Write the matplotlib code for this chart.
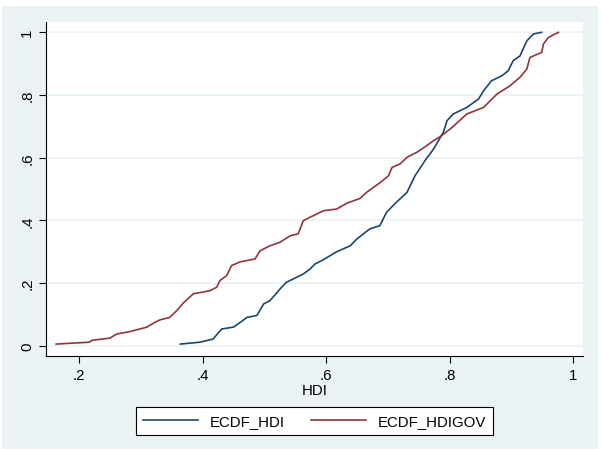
import numpy as np
import matplotlib.pyplot as plt
from matplotlib.patches import Rectangle

plt.rcParams['font.family'] = ['Liberation Sans', 'DejaVu Sans']

# ECDF of HDI
hdi_x = [0.364, 0.396, 0.417, 0.431, 0.450, 0.461, 0.472, 0.488, 0.499, 0.509,
         0.528, 0.536, 0.563, 0.574, 0.582, 0.596, 0.617, 0.639, 0.650, 0.671,
         0.687, 0.698, 0.714, 0.731, 0.744, 0.760, 0.774, 0.790, 0.796, 0.806,
         0.828, 0.847, 0.855, 0.868, 0.885, 0.895, 0.903, 0.914, 0.925, 0.936,
         0.949]
hdi_y = [0.006, 0.012, 0.022, 0.054, 0.060, 0.075, 0.091, 0.097, 0.134, 0.144,
         0.187, 0.203, 0.229, 0.245, 0.261, 0.275, 0.300, 0.319, 0.341, 0.373,
         0.383, 0.426, 0.458, 0.489, 0.542, 0.590, 0.627, 0.681, 0.718, 0.739,
         0.760, 0.787, 0.813, 0.845, 0.861, 0.877, 0.909, 0.924, 0.972, 0.994,
         0.999]

# ECDF of HDIGOV
gov_x = [0.163, 0.217, 0.221, 0.250, 0.261, 0.283, 0.310, 0.320, 0.331, 0.347,
         0.358, 0.369, 0.385, 0.412, 0.423, 0.428, 0.439, 0.447, 0.461, 0.485,
         0.493, 0.509, 0.525, 0.542, 0.555, 0.563, 0.574, 0.596, 0.617, 0.634,
         0.655, 0.666, 0.688, 0.701, 0.707, 0.720, 0.731, 0.747, 0.763, 0.774,
         0.785, 0.801, 0.828, 0.855, 0.877, 0.898, 0.914, 0.925, 0.930, 0.949,
         0.952, 0.960, 0.976]
gov_y = [0.006, 0.012, 0.018, 0.025, 0.038, 0.046, 0.060, 0.072, 0.083, 0.091,
         0.112, 0.137, 0.166, 0.176, 0.187, 0.208, 0.224, 0.256, 0.268, 0.277,
         0.303, 0.319, 0.330, 0.351, 0.357, 0.399, 0.410, 0.431, 0.436, 0.455,
         0.470, 0.490, 0.521, 0.542, 0.569, 0.580, 0.601, 0.617, 0.638, 0.654,
         0.667, 0.691, 0.739, 0.760, 0.803, 0.829, 0.856, 0.882, 0.919, 0.935,
         0.962, 0.983, 0.999]

xticks = [0.2, 0.4, 0.6, 0.8, 1.0]
xlabels = ['.2', '.4', '.6', '.8', '1']
yticks = [0, 0.2, 0.4, 0.6, 0.8, 1.0]
ylabels = ['0', '.2', '.4', '.6', '.8', '1']

bg = '#EAF2F3'
fig = plt.figure(figsize=(6.01, 4.52), dpi=100)
fig.add_artist(Rectangle((2/601, 2/452), 596/601, 443/452,
                         transform=fig.transFigure, facecolor=bg,
                         edgecolor='none', zorder=-10))

ax = fig.add_axes([46/601, 95/452, 537/601, 334/452])
ax.set_facecolor('white')
l1, = ax.plot(hdi_x, hdi_y, color='#1A476F', lw=1.2)
l2, = ax.plot(gov_x, gov_y, color='#90353B', lw=1.2)

ax.set_xlim(0.1466, 1.016)
ax.set_ylim(-0.032, 1.032)
ax.set_xticks(xticks)
ax.set_xticklabels(xlabels)
ax.set_yticks(yticks)
ax.set_yticklabels(ylabels, rotation=90, va='center')
ax.tick_params(labelsize=10.8, length=5, width=0.8, direction='out')
ax.grid(axis='y', color=bg, lw=1.2)
ax.set_axisbelow(True)
for s in ['top', 'right']:
    ax.spines[s].set_visible(False)
ax.set_xlabel('HDI', fontsize=10.8, labelpad=1)

leg = fig.legend([l1, l2], ['ECDF_HDI', 'ECDF_HDIGOV'], ncol=2,
                 loc='center', bbox_to_anchor=(314.5/601, 30/452),
                 fontsize=10.8, frameon=True, fancybox=False,
                 edgecolor='black', facecolor='white', framealpha=1,
                 handlelength=3.7, columnspacing=1.7, borderpad=0.45)
leg.get_frame().set_linewidth(0.8)

fig.savefig('out.png')
